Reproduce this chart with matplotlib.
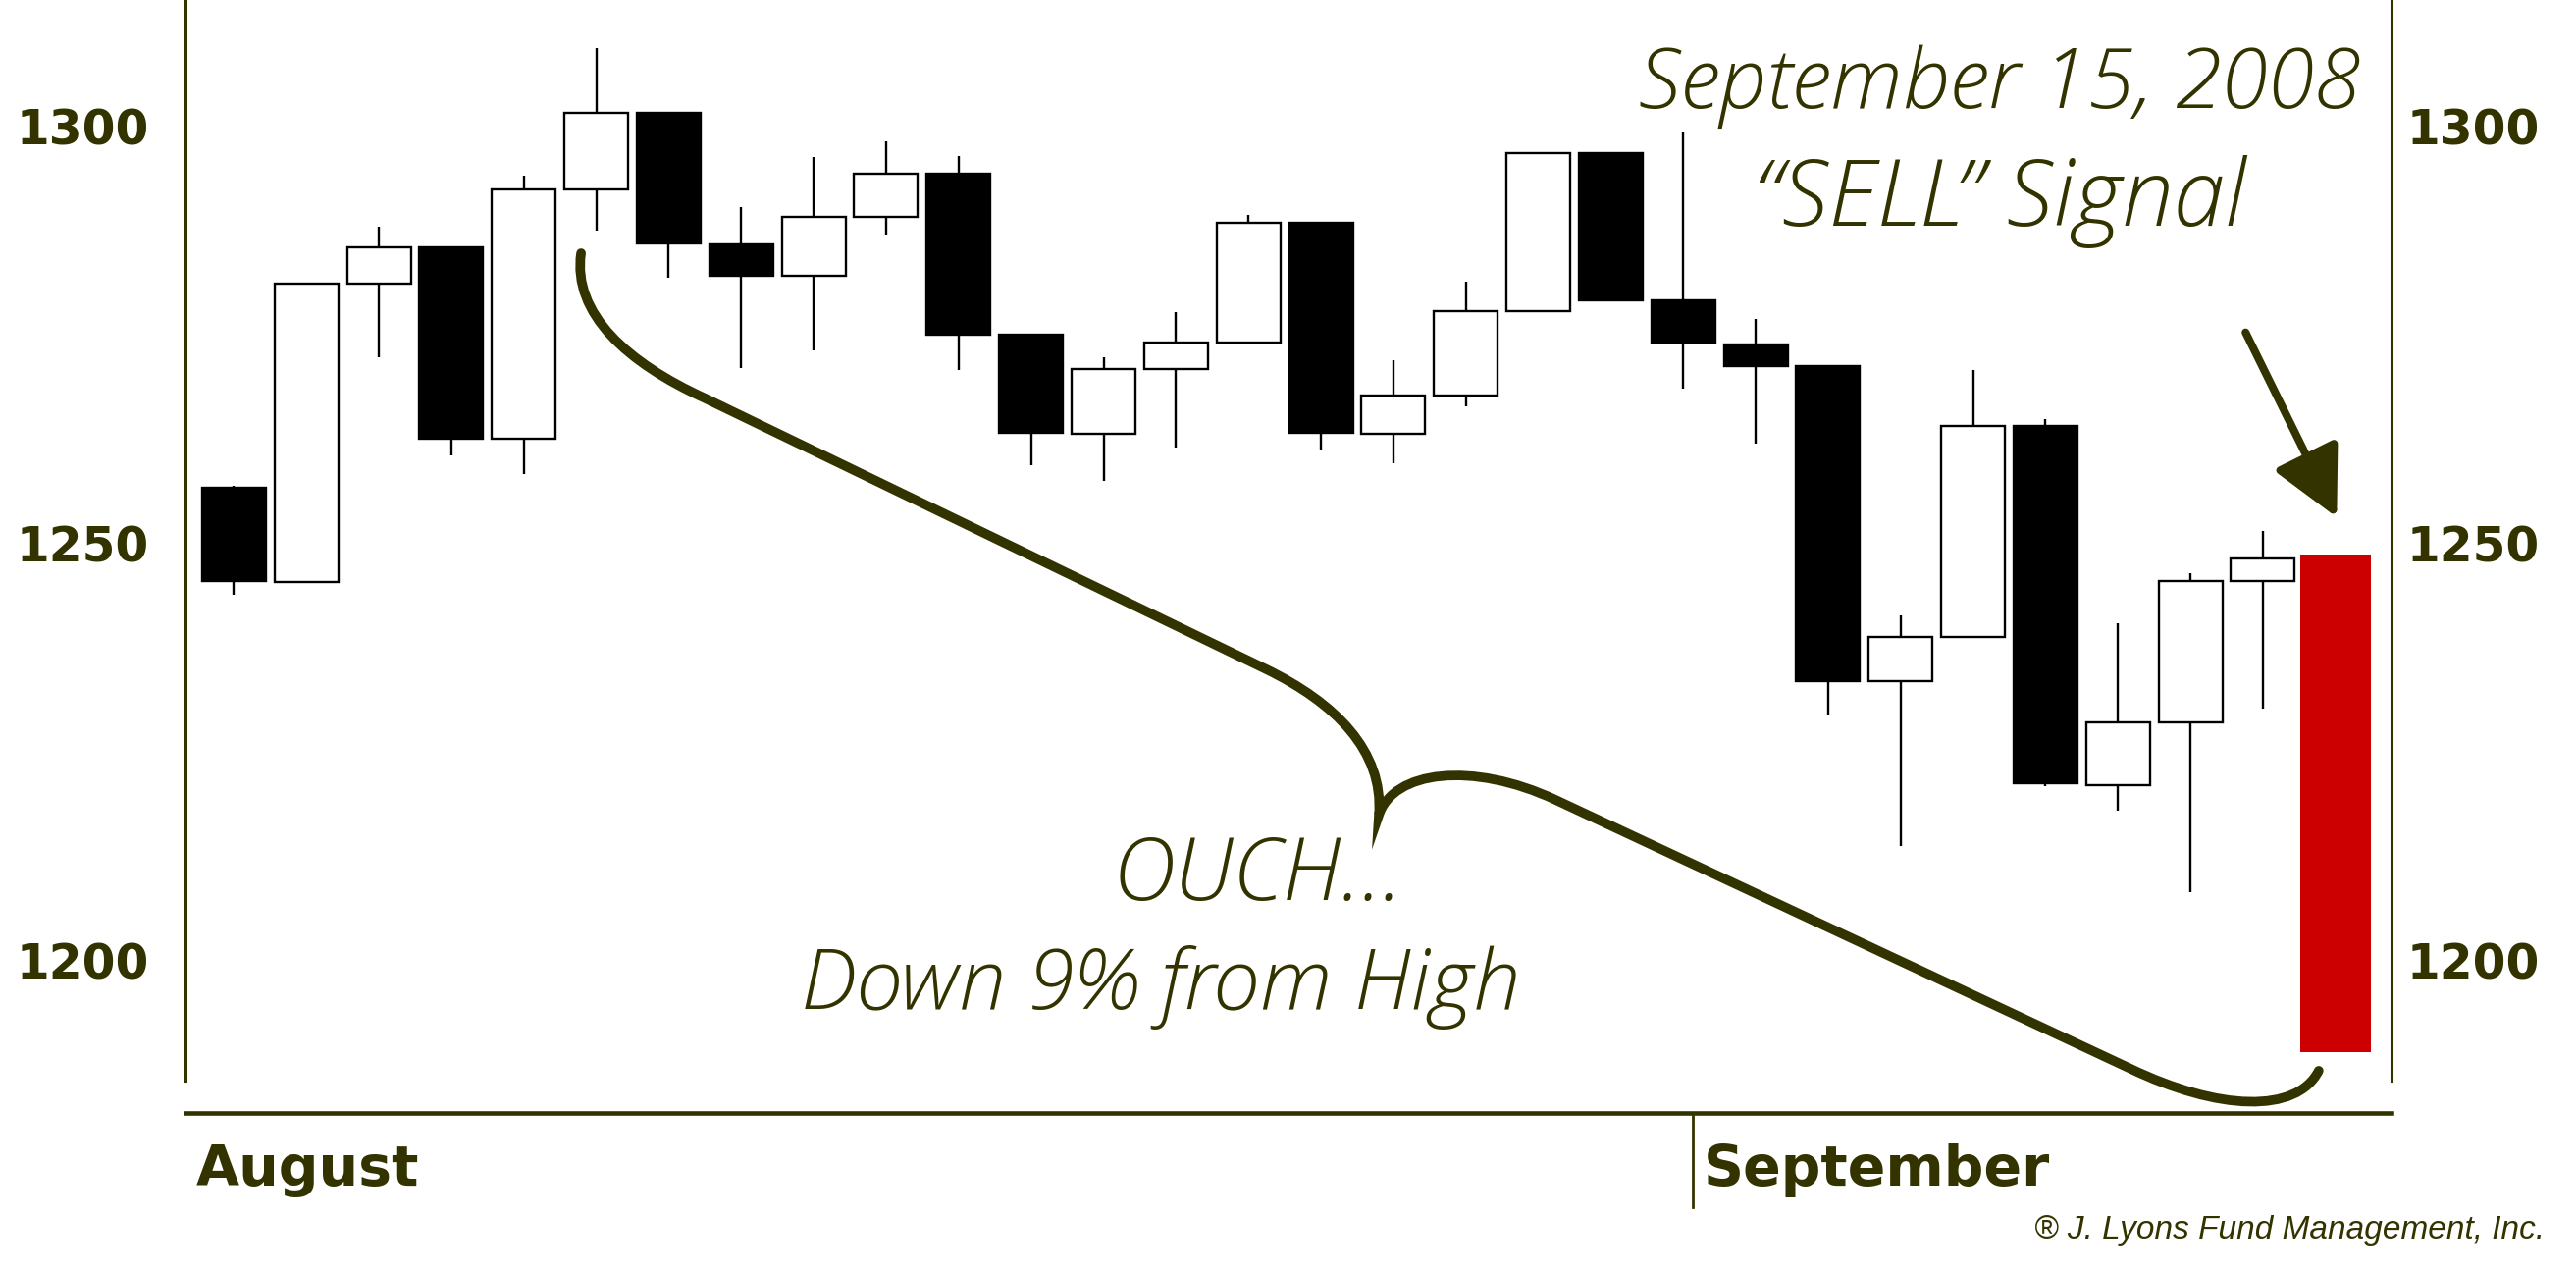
"""Candlestick chart: S&P 500, August to September 15, 2008, with the sell signal day in red."""

import matplotlib
matplotlib.use("Agg")
import matplotlib.pyplot as plt
from matplotlib.path import Path
from matplotlib.patches import PathPatch
from matplotlib.transforms import blended_transform_factory

OLIVE = "#333300"
SIGNAL_RED = "#cc0000"

# daily OHLC (Aug 4 .. Sep 15, 2008)
opens = [1256.7, 1245.4, 1281.2, 1285.5, 1262.5, 1292.5, 1301.6, 1285.9, 1282.1, 1289.2,
         1294.4, 1275.0, 1263.1, 1270.9, 1274.1, 1288.5, 1263.1, 1267.7, 1277.9, 1296.8,
         1279.1, 1273.9, 1271.3, 1233.4, 1238.8, 1264.1, 1221.0, 1228.5, 1245.5, 1248.7]
highs = [1256.9, 1281.2, 1288.0, 1285.5, 1294.1, 1309.4, 1301.6, 1290.3, 1296.3, 1298.2,
         1296.5, 1275.0, 1272.3, 1277.7, 1289.4, 1288.5, 1272.0, 1281.4, 1296.8, 1296.8,
         1299.3, 1276.9, 1271.3, 1241.3, 1270.8, 1264.9, 1240.4, 1246.4, 1251.5, 1248.7]
lows = [1243.8, 1245.4, 1272.3, 1260.6, 1258.3, 1287.5, 1281.9, 1271.0, 1273.2, 1287.0,
        1270.8, 1259.4, 1257.5, 1261.5, 1273.9, 1261.2, 1259.6, 1266.4, 1277.9, 1279.0,
        1268.5, 1261.9, 1229.3, 1213.7, 1238.8, 1220.8, 1217.9, 1208.1, 1230.2, 1188.9]
closes = [1245.5, 1281.2, 1285.5, 1262.5, 1292.5, 1301.6, 1286.0, 1282.1, 1289.2, 1294.3,
          1275.0, 1263.2, 1270.9, 1274.1, 1288.5, 1263.2, 1267.7, 1277.9, 1296.8, 1279.2,
          1274.1, 1271.3, 1233.5, 1238.8, 1264.1, 1221.2, 1228.5, 1245.5, 1248.2, 1188.9]

signal_index = 29          # September 15, 2008
month_labels = ["August", "September"]
month_first_index = [0, 20]
y_ticks = [1200, 1250, 1300]

# brace under the decline: cubic bezier pieces in (day index, price)
brace_verts = [
    (4.79, 1284.8), (4.67, 1277.5), (5.44, 1271.6), (6.50, 1267.4),
    (14.24, 1234.9),
    (15.19, 1230.9), (15.87, 1225.1), (15.80, 1217.4),
    (16.00, 1222.7), (17.08, 1223.9), (18.24, 1219.2),
    (26.16, 1187.0),
    (27.38, 1181.9), (28.46, 1181.5), (28.77, 1186.7),
]
brace_codes = [Path.MOVETO, Path.CURVE4, Path.CURVE4, Path.CURVE4,
               Path.LINETO,
               Path.CURVE4, Path.CURVE4, Path.CURVE4,
               Path.CURVE4, Path.CURVE4, Path.CURVE4,
               Path.LINETO,
               Path.CURVE4, Path.CURVE4, Path.CURVE4]

HAND = {"family": ["Open Sans", "DejaVu Sans"], "style": "italic", "weight": "light",
        "color": OLIVE}

fig = plt.figure(figsize=(26.25, 12.96), dpi=100)
ax = fig.add_axes([0.072, 0.125, 0.8564, 0.875])
ax.set_xlim(-0.669, 29.775)
ax.set_ylim(1181.63, 1315.19)

days = list(range(len(opens)))

# wicks first, bodies on top
ax.vlines([d for d in days if d != signal_index],
          [lows[d] for d in days if d != signal_index],
          [highs[d] for d in days if d != signal_index],
          color="black", linewidth=1.7, zorder=1)

for d in days:
    o, c = opens[d], closes[d]
    bottom, height = min(o, c), abs(c - o)
    if d == signal_index:
        ax.bar(d, height, bottom=bottom, width=0.97, color=SIGNAL_RED, linewidth=0, zorder=2)
    else:
        face = "white" if c > o else "black"
        ax.bar(d, height, bottom=bottom, width=0.88, facecolor=face, edgecolor="black",
               linewidth=1.7, zorder=2)

# axes frame
ax.spines["top"].set_visible(False)
for side in ("left", "right"):
    ax.spines[side].set_color(OLIVE)
    ax.spines[side].set_linewidth(2.2)
    ax.spines[side].set_bounds(1185.5, 1315.19)
ax.spines["bottom"].set_color(OLIVE)
ax.spines["bottom"].set_linewidth(3.3)

ax.set_xticks([])
ax.set_yticks(y_ticks)
ax.tick_params(axis="y", length=0, pad=27, labelsize=35, labelcolor=OLIVE)
for lbl in ax.get_yticklabels():
    lbl.set_fontweight("bold")

ax_r = ax.twinx()
ax_r.set_ylim(ax.get_ylim())
ax_r.set_yticks(y_ticks)
ax_r.tick_params(axis="y", length=0, pad=11, labelsize=35, labelcolor=OLIVE)
for lbl in ax_r.get_yticklabels():
    lbl.set_fontweight("bold")
for side in ax_r.spines:
    ax_r.spines[side].set_visible(False)

# month labels under the axis
trans = blended_transform_factory(ax.transData, ax.transAxes)
boundaries = [ax.get_xlim()[0]] + [i + 0.13 for i in month_first_index[1:]]
for name, b in zip(month_labels, boundaries):
    ax.text(b + 0.15, -0.065, name, transform=trans, ha="left", va="baseline",
            fontsize=41, fontweight="bold", color=OLIVE)
for b in boundaries[1:]:
    ax.plot([b, b], [-0.003, -0.085], transform=trans, color=OLIVE, linewidth=2,
            clip_on=False)

# annotations
ax.add_patch(PathPatch(Path(brace_verts, brace_codes), facecolor="none", edgecolor=OLIVE,
                       linewidth=7, capstyle="round", clip_on=False, zorder=3))

ax.annotate("", xy=(signal_index + 0.02, 1253.1), xytext=(signal_index - 1.24, 1275.3),
            arrowprops=dict(arrowstyle="-|>,head_length=4.3,head_width=2.2",
                            mutation_scale=10, color=OLIVE, linewidth=5.8,
                            shrinkA=0, shrinkB=0))

ax.text(24.37, 1302.2, "September 15, 2008", ha="center", va="baseline", fontsize=62, **HAND)
ax.text(24.37, 1288.1, "\u201cSELL\u201d Signal", ha="center", va="baseline", fontsize=68, **HAND)
ax.text(14.13, 1207.2, "OUCH...", ha="center", va="baseline", fontsize=64, **HAND)
ax.text(12.79, 1194.1, "Down 9% from High", ha="center", va="baseline", fontsize=62, **HAND)

fig.text(0.9878, 0.0262, "\u00ae J. Lyons Fund Management, Inc.", ha="right", va="baseline",
         fontsize=24, style="italic", family="Liberation Sans", color=OLIVE)

fig.savefig("out.png", dpi=100, facecolor="white")
plt.close(fig)
